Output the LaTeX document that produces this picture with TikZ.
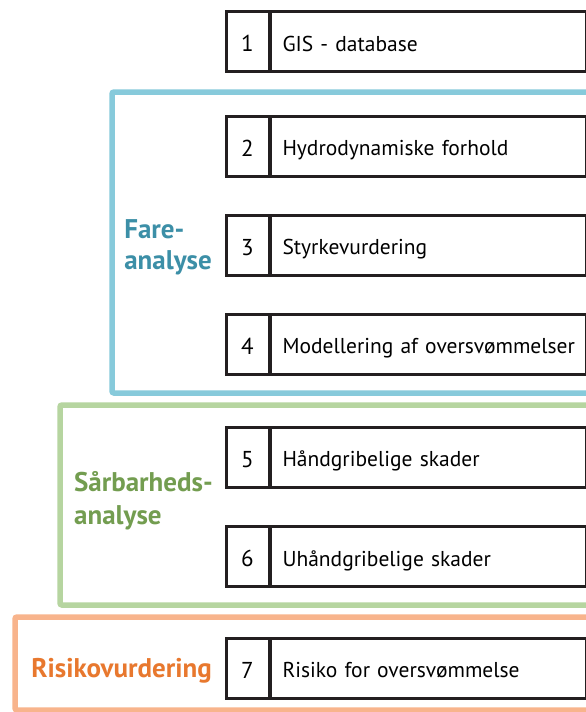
\documentclass[tikz,border=0pt]{standalone}
\usepackage{fontspec}
\setmainfont{PT Sans}
\definecolor{bluefr}{HTML}{87CADB}
\definecolor{bluetx}{HTML}{3C8FA7}
\definecolor{greenfr}{HTML}{B6D5A0}
\definecolor{greentx}{HTML}{739D50}
\definecolor{orangefr}{HTML}{F8B48C}
\definecolor{orangetx}{HTML}{E8782E}
\definecolor{boxline}{HTML}{231F20}
\begin{document}
\begin{tikzpicture}[x=1pt,y=-1pt,
  frame/.style={line width=5.5pt, rounded corners=2pt},
  numcell/.style={draw=boxline, line width=3pt, minimum width=43pt, minimum height=60pt, inner sep=0pt, text height=20pt, text depth=0pt, font=\fontsize{23}{26}\selectfont},
  txtcell/.style={draw=boxline, line width=3pt, minimum height=60pt, text width=292pt, inner xsep=12pt, inner ysep=0pt, text height=19pt, text depth=0pt, align=left, anchor=west, font=\fontsize{21.5}{24}\selectfont},
  grouplabel/.style={align=left, inner sep=0pt}
]
\useasboundingbox (0,0) rectangle (586,712);
\clip (0,0) rectangle (586,712);
\fill[white] (0,0) rectangle (586,712);
% frames
\draw[frame, bluefr] (620,92) -- (112,92) -- (112,393) -- (620,393);
\draw[frame, greenfr] (620,405) -- (60,405) -- (60,605) -- (620,605);
\draw[frame, orangefr] (620,617) -- (15,617) -- (15,710) -- (620,710);
% boxes
\foreach \i/\y/\t in {1/41.5/GIS - database,
                      2/146/Hydrodynamiske forhold,
                      3/245/Styrkevurdering,
                      4/344/\mbox{Modellering af oversvømmelser},
                      5/457/Håndgribelige skader,
                      6/556.5/Uhåndgribelige skader,
                      7/668/Risiko for oversvømmelse}{
  \node[txtcell] (t\i) at (269,\y) {\t};
  \node[numcell] (n\i) at (247.5,\y) {\i};
}
% labels
\node[grouplabel, anchor=east, text=bluetx, font=\fontsize{27}{31}\selectfont\bfseries] (lfare) at (212,247) {Fare-\\analyse};
\node[grouplabel, anchor=east, text=greentx, font=\fontsize{27}{33}\selectfont\bfseries] (lsaar) at (213,501) {Sårbarheds-\\analyse};
\node[grouplabel, anchor=base east, text=orangetx, font=\fontsize{27}{31}\selectfont\bfseries] (lrisk) at (212,677) {Risikovurdering};
\end{tikzpicture}
\end{document}
